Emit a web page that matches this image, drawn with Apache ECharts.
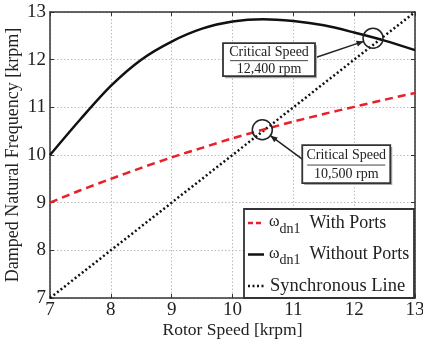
<!DOCTYPE html>
<html><head><meta charset="utf-8">
<script src="https://cdn.jsdelivr.net/npm/echarts@6/dist/echarts.min.js"></script>
<style>html,body{margin:0;padding:0;background:#fff}#c{width:423px;height:340px}</style>
</head><body><div id="c"></div>
<script>
const rotorSpeed = [7, 7.5, 8, 8.5, 9, 9.5, 10, 10.5, 11, 11.5, 12, 12.5, 13];
const withPorts = [9.0, 9.26, 9.5, 9.73, 9.95, 10.15, 10.35, 10.53, 10.7, 10.86, 11.01, 11.16, 11.3];
const withoutPorts = [10.0, 10.75, 11.45, 12.0, 12.38, 12.65, 12.8, 12.85, 12.81, 12.72, 12.57, 12.4, 12.2];
const syncLine = [7, 7.5, 8, 8.5, 9, 9.5, 10, 10.5, 11, 11.5, 12, 12.5, 13];
const xTicks = [7, 8, 9, 10, 11, 12, 13];
const yTicks = [7, 8, 9, 10, 11, 12, 13];
const criticalPoints = [[12.31, 12.45], [10.49, 10.53]];
const boxCenters = [[10.6, 12.0], [11.87, 9.81]];
const boxTexts = [['Critical Speed', '12,400 rpm'], ['Critical Speed', '10,500 rpm']];
const seriesNames = ['With Ports', 'Without Ports', 'Synchronous Line'];

const FONT = '"Liberation Serif", "DejaVu Serif", serif';
const chart = echarts.init(document.getElementById('c'), null, {renderer: 'canvas'});
const pairs = ys => rotorSpeed.map((x, i) => [x, ys[i]]);
const axisCommon = {
  min: 7, max: 13, interval: 1,
  axisLine: {show: true, lineStyle: {color: '#333', width: 1.5}},
  axisTick: {show: true, inside: true, length: 4, lineStyle: {color: '#333'}},
  splitLine: {show: true, lineStyle: {color: '#bbb', type: [1.5, 2], width: 1}},
  axisLabel: {color: '#222', fontFamily: FONT, fontSize: 19}
};
const styles = [
  {color: '#e8202a', width: 2.5, type: [8, 5]},
  {color: '#111', width: 2.5, type: 'solid'},
  {color: '#111', width: 2.5, type: [2, 2.5]}
];
const option = {
  animation: false,
  grid: {left: 50, right: 8, top: 12, bottom: 42, show: false, containLabel: false, outerBoundsMode: 'none'},
  xAxis: [
    Object.assign({}, axisCommon, {type: 'value', position: 'bottom',
      name: 'Rotor Speed [krpm]', nameLocation: 'middle', nameGap: 23, nameMoveOverlap: false,
      nameTextStyle: {fontFamily: FONT, fontSize: 17.5, color: '#222'},
      axisLabel: Object.assign({}, axisCommon.axisLabel, {margin: 3,
        formatter: v => xTicks.includes(v) ? String(v) : ''})}),
    Object.assign({}, axisCommon, {type: 'value', position: 'top', axisLabel: {show: false}, splitLine: {show: false}})
  ],
  yAxis: [
    Object.assign({}, axisCommon, {type: 'value', position: 'left',
      name: 'Damped Natural Frequency [krpm]', nameLocation: 'middle', nameGap: 28, nameMoveOverlap: false,
      nameTextStyle: {fontFamily: FONT, fontSize: 18, color: '#222'},
      axisLabel: Object.assign({}, axisCommon.axisLabel, {margin: 4,
        formatter: v => yTicks.includes(v) ? String(v) : ''})}),
    Object.assign({}, axisCommon, {type: 'value', position: 'right', axisLabel: {show: false}, splitLine: {show: false}})
  ],
  series: [
    {name: seriesNames[0], type: 'line', data: pairs(withPorts), smooth: 0.3, showSymbol: false, symbol: 'none',
      lineStyle: styles[0], z: 3},
    {name: seriesNames[1], type: 'line', data: pairs(withoutPorts), smooth: 0.3, showSymbol: false, symbol: 'none',
      lineStyle: styles[1], z: 3},
    {name: seriesNames[2], type: 'line', data: pairs(syncLine), showSymbol: false, symbol: 'none',
      lineStyle: styles[2], z: 2,
      markPoint: {
        symbol: 'circle', symbolSize: 20, silent: true,
        itemStyle: {color: 'rgba(0,0,0,0)', borderColor: '#222', borderWidth: 1.5},
        label: {show: false},
        data: criticalPoints.map(p => ({coord: p}))
      }}
  ]
};
chart.setOption(option);

const g = [];
// annotation boxes and arrows, positioned from data coordinates
const sizes = [[92, 33], [88, 38]];
boxCenters.forEach((c, i) => {
  const p = chart.convertToPixel({gridIndex: 0}, c);
  const [w, h] = sizes[i];
  const x0 = p[0] - w / 2, y0 = p[1] - h / 2;
  const target = chart.convertToPixel({gridIndex: 0}, criticalPoints[i]);
  const start = i === 0 ? [x0 + w, p[1] - 2] : [x0, y0 + 14];
  const dx = target[0] - start[0], dy = target[1] - start[1];
  const len = Math.hypot(dx, dy);
  const ux = dx / len, uy = dy / len;
  const end = [target[0] - ux * 10, target[1] - uy * 10];
  const ah = 7, aw = 3;
  g.push({type: 'line', shape: {x1: start[0], y1: start[1], x2: end[0], y2: end[1]}, style: {stroke: '#222', lineWidth: 1.5}, z: 100});
  g.push({type: 'polygon', shape: {points: [end, [end[0] - ux * ah - uy * aw, end[1] - uy * ah + ux * aw], [end[0] - ux * ah + uy * aw, end[1] - uy * ah - ux * aw]]}, style: {fill: '#222'}, z: 100});
  g.push({type: 'rect', shape: {x: x0 + 2, y: y0 + 2, width: w, height: h}, style: {fill: '#aaa'}, z: 100});
  g.push({type: 'rect', shape: {x: x0, y: y0, width: w, height: h}, style: {fill: '#fff', stroke: '#333', lineWidth: 1.8}, z: 101});
  g.push({type: 'text', x: p[0], y: p[1] - h / 4 + 1, style: {text: boxTexts[i][0], align: 'center', verticalAlign: 'middle', font: '14px ' + FONT, fill: '#222'}, z: 102});
  g.push({type: 'line', shape: {x1: p[0] - 39, y1: p[1] + 1, x2: p[0] + 39, y2: p[1] + 1}, style: {stroke: '#444', lineWidth: 1}, z: 102});
  g.push({type: 'text', x: p[0], y: p[1] + h / 4 + 1, style: {text: boxTexts[i][1], align: 'center', verticalAlign: 'middle', font: '14px ' + FONT, fill: '#222'}, z: 102});
});

// legend box (drawn to reproduce the line samples and subscripts)
const LX = 244, LY = 209, LW = 170, LH = 89, rowH = 31.5;
g.push({type: 'rect', shape: {x: LX, y: LY, width: LW, height: LH}, style: {fill: '#fff', stroke: '#333', lineWidth: 1.8}, z: 110});
seriesNames.forEach((name, i) => {
  const cy = LY + 14 + i * rowH;
  const st = styles[i];
  const lineLen = i === 2 ? 18 : 16;
  g.push({type: 'line', shape: {x1: LX + 4, y1: cy, x2: LX + 4 + lineLen, y2: cy},
    style: {stroke: st.color, lineWidth: st.width, lineDash: st.type === 'solid' ? null : (i === 0 ? [5, 3] : [2, 2.5])}, z: 111});
  if (i < 2) {
    g.push({type: 'text', x: LX + 25, y: cy + 2, style: {
      text: '{w|ω}{s|dn1}{t|' + name + '}',
      verticalAlign: 'middle',
      rich: {
        t: {font: '18px ' + FONT, fill: '#222', lineHeight: 22, verticalAlign: 'top'},
        w: {font: '16px ' + FONT, fill: '#222', lineHeight: 22, verticalAlign: 'top'},
        s: {font: '14px ' + FONT, fill: '#222', lineHeight: 13, verticalAlign: 'bottom', padding: [0, 9, 0, 0]}
      }}, z: 111});
  } else {
    g.push({type: 'text', x: LX + 26, y: cy, style: {text: name, verticalAlign: 'middle', font: '18.5px ' + FONT, fill: '#222'}, z: 111});
  }
});
chart.setOption({graphic: g});
</script></body></html>
